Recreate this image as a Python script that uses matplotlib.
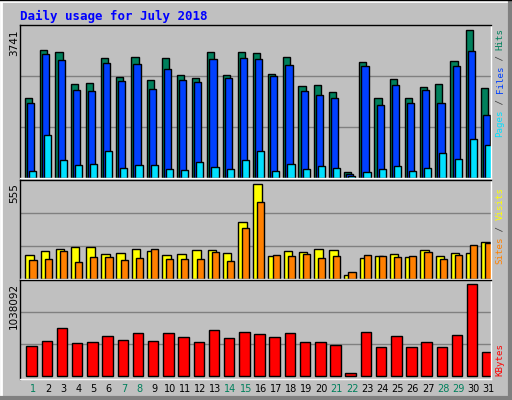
import matplotlib
matplotlib.use("Agg")
import matplotlib.pyplot as plt
from matplotlib.patches import Rectangle

days = list(range(1, 32))
weekend = [1, 7, 8, 14, 15, 21, 22, 28, 29]
hits = [2014,3233,3182,2370,2395,3030,2548,3056,2471,3030,2598,2522,3182,2598,3182,3157,2624,3056,2319,2345,2167,161,2929,2014,2497,2014,2294,2370,2954,3741,2268]
files = [1887,3132,2979,2218,2192,2903,2446,2878,2243,2751,2471,2421,3005,2522,3030,3005,2573,2852,2192,2091,2014,110,2827,1837,2345,1887,2218,1887,2827,3208,1583]
pages = [186,1075,466,339,364,669,262,339,339,237,212,415,288,237,466,669,186,364,237,313,262,59,161,237,313,186,262,618,491,973,821]
sites = [140,164,176,188,188,146,152,176,164,140,146,170,170,152,332,554,134,164,158,176,170,26,122,134,146,128,170,134,152,152,218]
visits = [110,116,164,98,128,128,110,122,176,116,116,116,158,104,296,446,140,134,146,122,134,38,140,134,128,134,158,116,140,200,212]
kbytes = [333406,390236,537995,367504,378870,447067,401603,481165,390236,481165,435700,378870,515263,424334,492531,469799,435700,481165,378870,378870,344772,26521,492531,322040,447067,322040,378870,322040,458433,1038092,265209]

W, H = 512, 400
fig = plt.figure(figsize=(W/100, H/100), dpi=100)
fig.patch.set_facecolor("#C0C0C0")
mono = "DejaVu Sans Mono"

bg = fig.add_axes([0, 0, 1, 1]); bg.set_xlim(0, W); bg.set_ylim(H, 0); bg.axis("off")
bg.add_patch(Rectangle((0, 0), W, H, fc="#C0C0C0", ec="none"))
bg.plot([1, W-1], [1, 1], color="white", lw=2); bg.plot([1, 1], [1, H-1], color="white", lw=2)
bg.plot([1, W-1], [H-2, H-2], color="#808080", lw=3); bg.plot([W-2, W-2], [1, H-1], color="#808080", lw=3)
bg.plot([0, W], [0, 0], color="black", lw=1)

def panel(top, bot):
    ax = fig.add_axes([20/W, 1-bot/H, (491-20)/W, (bot-top)/H])
    ax.set_facecolor("#C0C0C0")
    ax.set_xlim(0, 31)
    for s in ax.spines.values():
        s.set_color("black"); s.set_linewidth(1)
    ax.spines["right"].set_color("white"); ax.spines["bottom"].set_color("white")
    ax.set_xticks([]); ax.set_yticks([])
    return ax

def grid(ax, ymax):
    for f in (1/3, 2/3):
        ax.axhline(ymax*f, color="#808080", lw=1, zorder=0)

x0 = [d-1 for d in days]

ax1 = panel(25, 178)
ym = max(hits)/0.97
ax1.set_ylim(0, ym); grid(ax1, ym)
ax1.bar([x+0.33 for x in x0], hits, width=0.47, align="edge", color="#00805C", ec="black", lw=1)
ax1.bar([x+0.47 for x in x0], files, width=0.47, align="edge", color="#0040FF", ec="black", lw=1)
ax1.bar([x+0.60 for x in x0], pages, width=0.47, align="edge", color="#00E0FF", ec="black", lw=1)

ax2 = panel(180, 279)
ym2 = max(sites)/0.96
ax2.set_ylim(0, ym2); grid(ax2, ym2)
ax2.bar([x+0.35 for x in x0], sites, width=0.56, align="edge", color="#FFFF00", ec="black", lw=1)
ax2.bar([x+0.62 for x in x0], visits, width=0.47, align="edge", color="#FF8000", ec="black", lw=1)

ax3 = panel(280, 379)
ym3 = max(kbytes)/0.955
ax3.set_ylim(-ym3*0.035, ym3); grid(ax3, ym3)
ax3.bar([x+0.42 for x in x0], kbytes, width=0.69, align="edge", color="#FF0000", ec="black", lw=1)

fig.text(20/W, 1-16/H, "Daily usage for July 2018", color="#0000FF", fontsize=9, fontweight="bold", family=mono, va="center")
fig.text(14/W, 1-29/H, "3741", rotation=90, fontsize=7.5, va="top", ha="center", family="DejaVu Sans")
fig.text(14/W, 1-183/H, "555", rotation=90, fontsize=7.5, va="top", ha="center", family="DejaVu Sans")
fig.text(14/W, 1-283/H, "1038092", rotation=90, fontsize=7.5, va="top", ha="center", family="DejaVu Sans")

CH = 5.45
def rlabel(y, parts):
    yy = y
    for txt, col in parts:
        fig.text(500/W, 1-yy/H, txt, rotation=90, color=col, fontsize=6.6, family=mono,
                 ha="center", va="bottom")
        yy -= len(txt)*CH
rlabel(137, [("Pages", "#00E0FF"), (" / ", "#404040"), ("Files", "#0040FF"), (" / ", "#404040"), ("Hits", "#00805C")])
rlabel(264, [("Sites", "#FF8000"), (" / ", "#404040"), ("Visits", "#FFFF00")])
rlabel(376, [("KBytes", "#FF0000")])

for d in days:
    fig.text((20 + (d-1+0.85)*15.2)/W, 1-389/H, str(d), color="#00805C" if d in weekend else "black",
             fontsize=7, ha="center", va="center", family="DejaVu Sans")

fig.savefig("out.png", dpi=100, facecolor=fig.get_facecolor())
